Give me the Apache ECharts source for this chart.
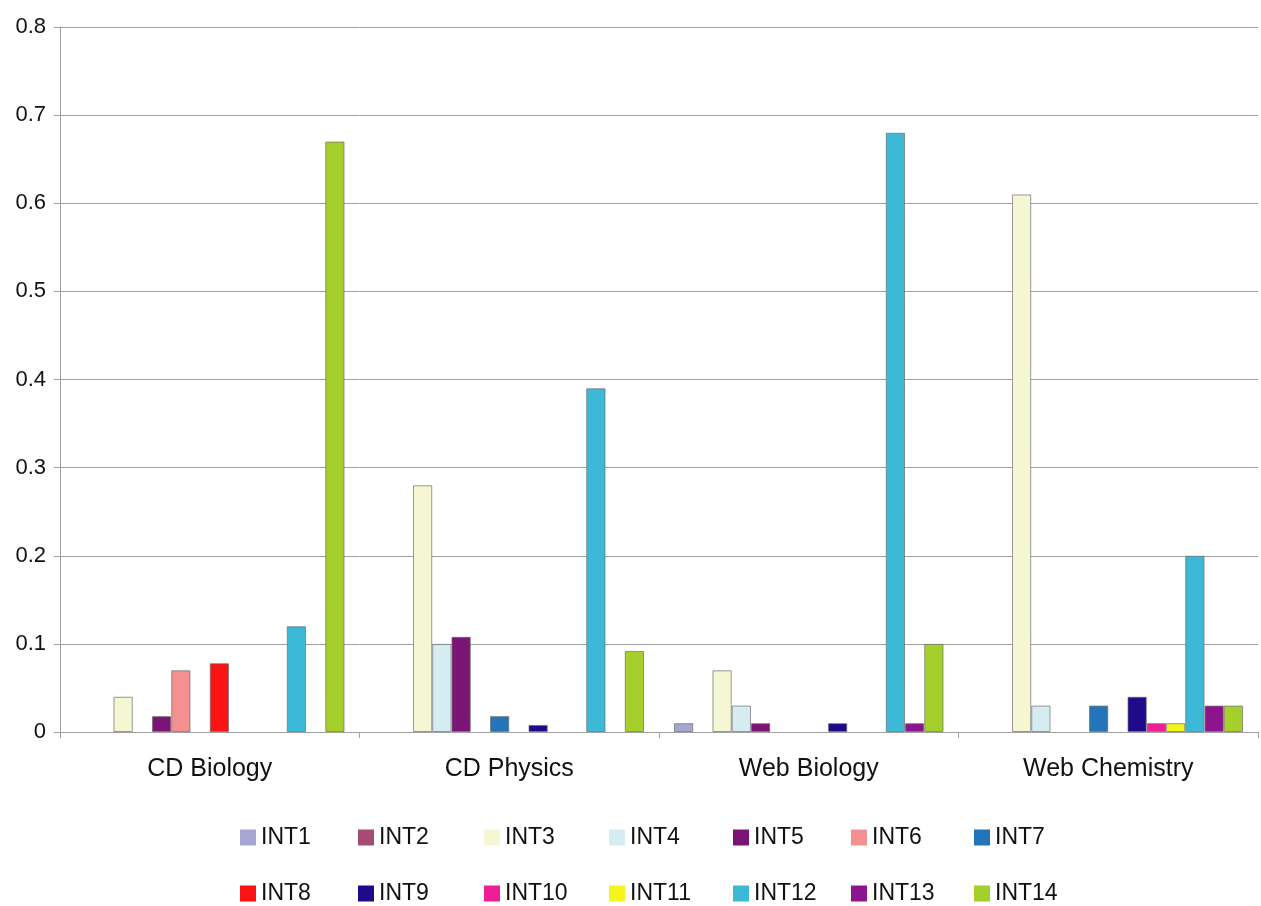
<!DOCTYPE html>
<html><head><meta charset="utf-8">
<script src="https://cdn.jsdelivr.net/npm/echarts@6/dist/echarts.min.js"></script>
<style>html,body{margin:0;padding:0;background:#fff}#c{width:1261px;height:906px}</style>
</head><body><div id="c"></div>
<script>
const categories = ['CD Biology', 'CD Physics', 'Web Biology', 'Web Chemistry'];
const seriesNames = ['INT1','INT2','INT3','INT4','INT5','INT6','INT7','INT8','INT9','INT10','INT11','INT12','INT13','INT14'];
const INT1  = [0, 0, 0.01, 0];
const INT2  = [0, 0, 0, 0];
const INT3  = [0.04, 0.28, 0.07, 0.61];
const INT4  = [0, 0.10, 0.03, 0.03];
const INT5  = [0.018, 0.108, 0.01, 0];
const INT6  = [0.07, 0, 0, 0];
const INT7  = [0, 0.018, 0, 0.03];
const INT8  = [0.078, 0, 0, 0];
const INT9  = [0, 0.008, 0.01, 0.04];
const INT10 = [0, 0, 0, 0.01];
const INT11 = [0, 0, 0, 0.01];
const INT12 = [0.12, 0.39, 0.68, 0.20];
const INT13 = [0, 0, 0.01, 0.03];
const INT14 = [0.67, 0.092, 0.10, 0.03];
const seriesValues = [INT1,INT2,INT3,INT4,INT5,INT6,INT7,INT8,INT9,INT10,INT11,INT12,INT13,INT14];
const colors = ['#a6a6d2','#a64a78','#f5f7d2','#d5edf2','#7a1575','#f59090','#2374b8','#fa1414','#1f0a8c','#f01e96','#f5f51e','#3cb9d7','#8c148c','#a5cf2a'];
const yTicks = [0, 0.1, 0.2, 0.3, 0.4, 0.5, 0.6, 0.7, 0.8];

// legend layout (two rows of seven)
const legendLeft = [240, 358, 484, 609, 733, 851, 974];
const legendTop = [826, 882];

const font = 'Liberation Sans, Arial, sans-serif';
const chart = echarts.init(document.getElementById('c'), null, {renderer:'canvas'});
const legends = seriesNames.map((n, i) => ({
  show: true, orient: 'horizontal', itemWidth: 16, itemHeight: 16, itemGap: 0,
  icon: 'rect', left: legendLeft[i % 7], top: legendTop[Math.floor(i / 7)],
  padding: 0, data: [n],
  itemStyle: {borderWidth: 0},
  textStyle: {fontFamily: font, fontSize: 23, color: '#111'}
}));
chart.setOption({
  animation: false,
  color: colors,
  grid: {left: 60, right: 3, top: 27, bottom: 174, containLabel: false},
  legend: legends,
  xAxis: {
    type: 'category', data: categories,
    axisLine: {lineStyle: {color: '#a0a0a0', width: 1}},
    axisTick: {show: true, alignWithLabel: false, length: 6, lineStyle: {color: '#a0a0a0'}},
    axisLabel: {fontFamily: font, fontSize: 25, color: '#111', margin: 25}
  },
  yAxis: {
    type: 'value', min: yTicks[0], max: yTicks[yTicks.length-1], interval: 0.1,
    axisLine: {show: true, lineStyle: {color: '#a0a0a0', width: 1}},
    axisTick: {show: true, length: 6, lineStyle: {color: '#a0a0a0'}},
    splitLine: {lineStyle: {color: '#a0a0a0', width: 1}},
    axisLabel: {fontFamily: font, fontSize: 22, color: '#111', margin: 14,
      formatter: v => String(Math.round(v*10)/10)}
  },
  series: seriesNames.map((n, i) => ({
    name: n, type: 'bar', data: seriesValues[i].map(v => v === 0 ? null : v),
    barGap: '0%', barCategoryGap: '10%',
    itemStyle: {color: colors[i], borderColor: 'rgba(110,110,110,0.7)', borderWidth: 1}
  }))
});
</script></body></html>
